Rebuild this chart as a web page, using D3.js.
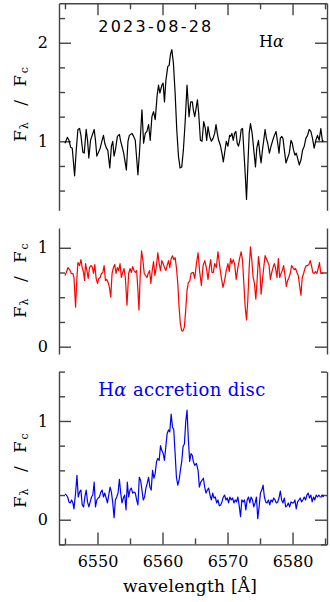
<!DOCTYPE html>
<html>
<head>
<meta charset="utf-8">
<script src="https://cdn.jsdelivr.net/npm/d3@7"></script>
<style>
  body { margin: 0; background: #fff; }
  svg { display: block; }
  .axis path, .axis line { stroke: #444; stroke-width: 1.4; }
  .axis text { font-family: "DejaVu Serif", serif; font-size: 16px; fill: #000; }
  .spec { fill: none; stroke-width: 1.2; stroke-linejoin: round; }
  .lbl { font-family: "DejaVu Serif", serif; fill: #000; }
</style>
</head>
<body>
<svg id="chart" width="330" height="602"></svg>
<script>
// observed spectrum (black)
var wave1 = [
  6545.00,6545.36,6545.61,6545.87,6546.12,6546.48,6546.73,6546.99,6547.24,6547.45,
  6547.75,6547.96,6548.26,6548.47,6548.67,6548.93,6549.18,6549.49,6549.69,6549.90,
  6550.10,6550.41,6550.71,6550.92,6551.12,6551.38,6551.58,6551.89,6552.14,6552.35,
  6552.55,6552.75,6553.06,6553.37,6553.57,6553.77,6554.03,6554.44,6554.69,6554.90,
  6555.30,6555.56,6555.81,6556.22,6556.48,6556.84,6557.09,6557.35,6557.60,6557.86,
  6558.11,6558.37,6558.62,6558.88,6559.18,6559.39,6559.59,6559.90,6560.10,6560.30,
  6560.51,6560.81,6561.02,6561.22,6561.43,6561.68,6561.94,6562.19,6562.45,6562.70,
  6562.96,6563.21,6563.47,6563.77,6564.08,6564.34,6564.59,6564.74,6564.96,6565.37,
  6565.57,6565.83,6566.08,6566.34,6566.59,6566.80,6567.00,6567.26,6567.51,6567.77,
  6568.02,6568.23,6568.43,6568.63,6568.89,6569.14,6569.35,6569.55,6569.81,6570.06,
  6570.32,6570.47,6570.67,6570.88,6571.08,6571.29,6571.49,6571.69,6571.90,6572.10,
  6572.31,6572.51,6572.77,6572.92,6573.12,6573.33,6573.53,6573.79,6574.04,6574.30,
  6574.50,6574.76,6574.96,6575.16,6575.37,6575.57,6575.78,6575.98,6576.18,6576.44,
  6576.69,6576.95,6577.21,6577.46,6577.72,6577.92,6578.12,6578.33,6578.53,6578.74,
  6578.99,6579.25,6579.50,6579.76,6579.96,6580.16,6580.37,6580.57,6580.78,6581.03,
  6581.29,6581.54,6581.80,6582.05,6582.31,6582.56,6582.82,6583.07,6583.33,6583.58,
  6583.84,6584.09,6584.35,6584.60,6584.76
];
var flux1 = [
  0.98,1.04,1.01,0.94,0.93,0.65,0.91,1.12,1.13,1.06,
  0.89,0.88,1.12,1.01,0.83,1.01,1.06,1.12,1.01,0.85,
  0.88,0.93,1.01,1.06,0.98,0.93,0.91,0.73,0.95,1.00,
  0.85,0.91,1.05,1.07,1.00,0.95,0.88,0.71,1.00,1.06,
  1.08,1.05,1.01,0.66,0.91,1.32,0.98,1.08,1.10,1.17,
  1.01,1.25,1.30,1.22,1.47,1.57,1.49,1.57,1.59,1.40,
  1.61,1.76,1.77,1.88,1.93,1.79,1.49,1.12,0.85,0.73,
  0.74,0.91,1.18,1.57,1.25,1.40,1.40,1.32,1.25,1.42,
  1.28,1.01,1.00,1.20,1.13,1.01,1.15,1.05,1.00,1.03,
  1.08,1.17,1.08,1.01,0.96,0.88,0.79,0.88,1.00,0.95,
  1.06,1.05,1.08,1.01,1.08,1.10,0.98,0.95,1.01,1.12,
  1.13,0.91,0.61,0.41,0.74,1.08,1.18,1.08,0.91,0.74,
  0.93,1.01,0.88,0.78,0.91,1.01,1.12,1.03,0.98,0.88,
  0.95,1.01,1.06,1.10,0.98,0.88,1.03,1.05,1.03,0.91,
  0.78,0.83,0.88,1.01,0.98,0.91,0.86,0.88,0.83,0.76,
  0.81,0.91,0.95,1.03,1.06,1.12,1.10,1.03,0.93,1.01,
  1.06,1.01,1.13,1.00,1.01
];

// photospheric spectrum (red)
var wave2 = [
  6545.00,6545.20,6545.46,6545.71,6545.97,6546.22,6546.38,6546.63,6546.84,6546.99,
  6547.24,6547.45,6547.65,6547.86,6548.01,6548.16,6548.37,6548.57,6548.77,6548.98,
  6549.18,6549.39,6549.59,6549.79,6550.00,6550.20,6550.41,6550.61,6550.82,6551.02,
  6551.22,6551.43,6551.63,6551.84,6552.04,6552.24,6552.45,6552.65,6552.86,6553.06,
  6553.26,6553.47,6553.67,6553.88,6554.08,6554.28,6554.54,6554.79,6555.00,6555.20,
  6555.41,6555.61,6555.82,6556.02,6556.22,6556.38,6556.58,6556.78,6556.99,6557.19,
  6557.40,6557.60,6557.80,6558.01,6558.21,6558.42,6558.62,6558.83,6559.03,6559.28,
  6559.49,6559.69,6559.90,6560.10,6560.30,6560.51,6560.71,6560.92,6561.12,6561.33,
  6561.53,6561.73,6561.94,6562.14,6562.35,6562.55,6562.75,6562.96,6563.16,6563.37,
  6563.57,6563.77,6563.98,6564.18,6564.39,6564.59,6564.74,6564.96,6565.22,6565.47,
  6565.73,6565.98,6566.24,6566.49,6566.75,6567.00,6567.21,6567.41,6567.61,6567.82,
  6568.02,6568.28,6568.53,6568.79,6569.04,6569.30,6569.55,6569.81,6570.06,6570.27,
  6570.47,6570.67,6570.88,6571.08,6571.34,6571.59,6571.85,6572.10,6572.31,6572.51,
  6572.72,6572.92,6573.12,6573.33,6573.53,6573.74,6573.94,6574.14,6574.35,6574.55,
  6574.76,6574.96,6575.16,6575.37,6575.57,6575.78,6575.98,6576.19,6576.39,6576.59,
  6576.80,6577.00,6577.21,6577.41,6577.61,6577.82,6578.02,6578.23,6578.43,6578.63,
  6578.84,6579.04,6579.25,6579.45,6579.65,6579.86,6580.06,6580.27,6580.47,6580.67,
  6580.88,6581.08,6581.29,6581.49,6581.70,6581.90,6582.10,6582.31,6582.51,6582.72,
  6582.92,6583.12,6583.33,6583.53,6583.74,6583.94,6584.14,6584.35,6584.55,6584.76
];
var flux2 = [
  0.72,0.75,0.80,0.78,0.74,0.74,0.70,0.40,0.70,0.85,
  0.82,0.88,0.80,0.75,0.67,0.84,0.77,0.69,0.80,0.82,
  0.81,0.74,0.83,0.69,0.64,0.69,0.70,0.74,0.75,0.82,
  0.67,0.68,0.65,0.60,0.50,0.74,0.80,0.83,0.74,0.80,
  0.77,0.84,0.70,0.75,0.79,0.70,0.42,0.74,0.79,0.75,
  0.81,0.77,0.75,0.77,0.57,0.37,0.74,0.97,0.87,0.74,
  0.72,0.70,0.74,0.77,0.64,0.77,0.86,0.72,0.80,0.95,
  0.84,0.77,0.87,0.84,0.80,0.77,0.82,0.87,0.80,0.89,
  0.92,0.88,0.90,0.80,0.64,0.40,0.23,0.16,0.16,0.20,
  0.37,0.57,0.65,0.66,0.74,0.75,0.75,0.69,0.84,0.95,
  0.75,0.62,0.82,0.87,0.80,0.68,0.80,0.88,0.75,0.75,
  0.84,0.80,0.96,0.82,0.70,0.60,0.67,0.77,0.84,0.76,
  0.89,0.84,0.88,0.84,0.68,0.80,0.89,0.96,0.87,0.64,
  0.40,0.27,0.47,0.80,1.01,0.87,0.70,0.64,0.48,0.67,
  0.91,0.80,0.53,0.67,0.80,0.92,0.89,0.86,0.82,0.68,
  0.75,0.80,0.84,0.79,0.70,0.89,0.70,0.74,0.77,0.82,
  0.72,0.61,0.67,0.70,0.74,0.82,0.80,0.78,0.79,0.75,
  0.72,0.62,0.52,0.70,0.74,0.79,0.82,0.82,0.83,0.87,
  0.82,0.75,0.74,0.76,0.74,0.79,0.85,0.74,0.74,0.75
];

// accretion disc residual (blue)
var wave3 = [
  6545.00,6545.20,6545.41,6545.61,6545.81,6546.02,6546.22,6546.38,6546.63,6546.84,
  6547.04,6547.24,6547.45,6547.65,6547.86,6548.06,6548.26,6548.47,6548.67,6548.88,
  6549.08,6549.28,6549.49,6549.69,6549.90,6550.10,6550.30,6550.51,6550.71,6550.92,
  6551.12,6551.33,6551.53,6551.73,6551.94,6552.14,6552.35,6552.55,6552.75,6552.96,
  6553.16,6553.37,6553.57,6553.77,6553.98,6554.18,6554.39,6554.59,6554.79,6555.00,
  6555.20,6555.41,6555.61,6555.82,6556.02,6556.22,6556.43,6556.63,6556.84,6557.04,
  6557.24,6557.45,6557.65,6557.86,6558.06,6558.26,6558.47,6558.67,6558.88,6559.08,
  6559.28,6559.49,6559.69,6559.90,6560.10,6560.30,6560.51,6560.71,6560.92,6561.12,
  6561.33,6561.53,6561.73,6561.94,6562.14,6562.35,6562.55,6562.75,6562.96,6563.16,
  6563.37,6563.57,6563.77,6563.98,6564.18,6564.39,6564.59,6564.74,6564.96,6565.22,
  6565.47,6565.67,6565.88,6566.08,6566.29,6566.49,6566.69,6566.90,6567.10,6567.31,
  6567.51,6567.72,6567.92,6568.12,6568.33,6568.53,6568.74,6568.94,6569.14,6569.35,
  6569.55,6569.76,6569.96,6570.16,6570.37,6570.57,6570.78,6570.98,6571.18,6571.39,
  6571.59,6571.80,6572.00,6572.20,6572.41,6572.61,6572.82,6573.02,6573.23,6573.43,
  6573.63,6573.84,6574.04,6574.25,6574.45,6574.65,6574.86,6575.06,6575.27,6575.47,
  6575.67,6575.88,6576.08,6576.29,6576.49,6576.69,6576.90,6577.10,6577.31,6577.51,
  6577.72,6577.92,6578.12,6578.33,6578.53,6578.74,6578.94,6579.14,6579.35,6579.55,
  6579.76,6579.96,6580.16,6580.37,6580.57,6580.78,6580.98,6581.18,6581.39,6581.59,
  6581.80,6582.00,6582.21,6582.41,6582.61,6582.82,6583.02,6583.23,6583.43,6583.63,
  6583.84,6584.04,6584.25,6584.45,6584.65,6584.76
];
var flux3 = [
  0.26,0.25,0.23,0.18,0.17,0.20,0.17,0.11,0.27,0.45,
  0.23,0.28,0.30,0.15,0.13,0.23,0.30,0.18,0.13,0.18,
  0.23,0.25,0.38,0.13,0.20,0.22,0.23,0.28,0.30,0.23,
  0.27,0.22,0.17,0.25,0.33,0.28,0.17,0.02,0.20,0.23,
  0.27,0.41,0.27,0.17,0.22,0.25,0.10,0.38,0.23,0.30,
  0.32,0.27,0.28,0.27,0.20,0.15,0.43,0.40,0.30,0.20,
  0.23,0.32,0.37,0.43,0.33,0.30,0.50,0.42,0.47,0.59,
  0.62,0.60,0.75,0.70,0.67,0.60,0.74,0.87,0.91,0.89,
  1.07,0.94,0.91,0.67,0.43,0.35,0.40,0.50,0.59,0.74,
  0.77,0.99,1.11,0.81,0.59,0.67,0.65,0.59,0.55,0.57,
  0.50,0.33,0.38,0.40,0.42,0.33,0.27,0.30,0.32,0.25,
  0.20,0.27,0.22,0.23,0.17,0.20,0.14,0.15,0.18,0.23,
  0.25,0.20,0.22,0.17,0.23,0.20,0.22,0.17,0.20,0.18,
  0.23,0.14,0.03,0.20,0.18,0.20,0.10,0.20,0.23,0.17,
  0.23,0.20,0.13,0.17,0.23,0.01,0.13,0.27,0.30,0.35,
  0.23,0.18,0.17,0.20,0.15,0.20,0.18,0.22,0.20,0.17,
  0.18,0.22,0.29,0.20,0.17,0.22,0.13,0.14,0.17,0.13,
  0.18,0.17,0.17,0.20,0.11,0.18,0.20,0.22,0.18,0.20,
  0.23,0.20,0.25,0.27,0.22,0.25,0.18,0.23,0.20,0.25,
  0.23,0.25,0.23,0.23,0.25,0.23
];

var xTicksMajor = [6550, 6560, 6570, 6580];
var xTicksMinor = [6545, 6555, 6565, 6575, 6585];
var dateLabel = '2023-08-28';
var lineLabel = 'H\u03b1';
var discLabel = 'H\u03b1 accretion disc';
var xTitle = 'wavelength [\u00c5]';

var svg = d3.select('#chart');
var x = d3.scaleLinear()
    .domain([6544.08, 6585.3])
    .range([59, 327]);

var panels = [
    {wave: wave1, flux: flux1, color: '#000000', domain: [0.3, 2.4], range: [210.3, 3.3], labelY: 141.7},
    {wave: wave2, flux: flux2, color: '#ff0000', domain: [-0.074, 1.2], range: [354, 228], labelY: 318},
    {wave: wave3, flux: flux3, color: '#0000ff', domain: [-0.25, 1.5], range: [544.4, 371.6], labelY: 508}
];

function quarterTicks(domain) {
    var v = [];
    for (var k = Math.ceil(domain[0] * 4 - 1e-6); k <= Math.floor(domain[1] * 4 + 1e-6); k++) {
        v.push(k / 4);
    }
    return v;
}

function yLabel(base) {
    var g = svg.append('g')
        .attr('transform', 'translate(26,' + base + ') rotate(-90)');
    var pieces = [
        {t: 'F', x: 0, sub: false},
        {t: '\u03bb', x: 12.5, sub: true},
        {t: '/', x: 36, sub: false},
        {t: 'F', x: 55, sub: false},
        {t: 'c', x: 68.5, sub: true}
    ];
    pieces.forEach(function(p) {
        g.append('text')
            .attr('class', 'lbl')
            .attr('x', p.x)
            .attr('y', p.sub ? 2 : 0)
            .style('font-size', p.sub ? '11px' : '17px')
            .text(p.t);
    });
}

// writes a label, putting the greek alpha in italics
function greekText(sel, str) {
    str.split('\u03b1').forEach(function(part, j) {
        if (j > 0) {
            sel.append('tspan').style('font-style', 'italic').text('\u03b1');
        }
        if (part.length) {
            sel.append('tspan').text(part);
        }
    });
}

panels.forEach(function(p, i) {
    var y = d3.scaleLinear().domain(p.domain).range(p.range);
    var ticks = quarterTicks(p.domain);
    var majors = ticks.filter(function(d) { return Math.abs(d - Math.round(d)) < 1e-6; });
    var minors = ticks.filter(function(d) { return Math.abs(d - Math.round(d)) >= 1e-6; });

    // left axis
    svg.append('g')
        .attr('class', 'axis')
        .attr('transform', 'translate(59,0)')
        .call(d3.axisLeft(y).tickValues(minors).tickSize(-6).tickFormat(''))
        .select('.domain').remove();
    svg.append('g')
        .attr('class', 'axis')
        .attr('transform', 'translate(59,0)')
        .call(d3.axisLeft(y).tickValues(majors).tickSize(-12).tickSizeOuter(0).tickPadding(11)
              .tickFormat(d3.format('d')));

    // right axis
    svg.append('g')
        .attr('class', 'axis')
        .attr('transform', 'translate(327,0)')
        .call(d3.axisRight(y).tickValues(minors).tickSize(-6).tickFormat(''))
        .select('.domain').remove();
    svg.append('g')
        .attr('class', 'axis')
        .attr('transform', 'translate(327,0)')
        .call(d3.axisRight(y).tickValues(majors).tickSize(-12).tickSizeOuter(0).tickFormat(''));

    var line = d3.line()
        .x(function(d) { return x(d[0]); })
        .y(function(d) { return y(d[1]); });
    var n = Math.min(p.wave.length, p.flux.length);
    var pts = d3.range(n).map(function(j) { return [p.wave[j], p.flux[j]]; });

    svg.append('path')
        .datum(pts)
        .attr('class', 'spec')
        .attr('stroke', p.color)
        .attr('d', line);

    yLabel(p.labelY);
});

// top axis of the first panel
svg.append('g')
    .attr('class', 'axis')
    .attr('transform', 'translate(0,3.3)')
    .call(d3.axisTop(x).tickValues(xTicksMinor).tickSize(-6).tickFormat(''))
    .select('.domain').remove();
svg.append('g')
    .attr('class', 'axis')
    .attr('transform', 'translate(0,3.3)')
    .call(d3.axisTop(x).tickValues(xTicksMajor).tickSize(-12).tickSizeOuter(0).tickFormat(''));

// bottom axis of the last panel
svg.append('g')
    .attr('class', 'axis')
    .attr('transform', 'translate(0,544.4)')
    .call(d3.axisBottom(x).tickValues(xTicksMinor).tickSize(-6).tickFormat(''))
    .select('.domain').remove();
svg.append('g')
    .attr('class', 'axis')
    .attr('transform', 'translate(0,544.4)')
    .call(d3.axisBottom(x).tickValues(xTicksMajor).tickSize(-12).tickSizeOuter(0).tickPadding(11)
          .tickFormat(d3.format('d')));

svg.append('text')
    .attr('x', 98.3)
    .attr('y', 31.7)
    .attr('textLength', 113)
    .attr('lengthAdjust', 'spacing')
    .style('font-family', '"DejaVu Sans", sans-serif')
    .style('font-size', '16px')
    .text(dateLabel);

var hLabel = svg.append('text')
    .attr('class', 'lbl')
    .attr('x', 259)
    .attr('y', 46.7)
    .style('font-size', '16px');
greekText(hLabel, lineLabel);

var dLabel = svg.append('text')
    .attr('class', 'lbl')
    .attr('x', 98.3)
    .attr('y', 396)
    .attr('textLength', 167)
    .attr('lengthAdjust', 'spacing')
    .style('font-size', '18px')
    .style('fill', '#0000ff');
greekText(dLabel, discLabel);

svg.append('text')
    .attr('class', 'lbl')
    .attr('x', 123)
    .attr('y', 591.7)
    .attr('textLength', 134)
    .attr('lengthAdjust', 'spacing')
    .style('font-size', '17px')
    .text(xTitle);
</script>
</body>
</html>
